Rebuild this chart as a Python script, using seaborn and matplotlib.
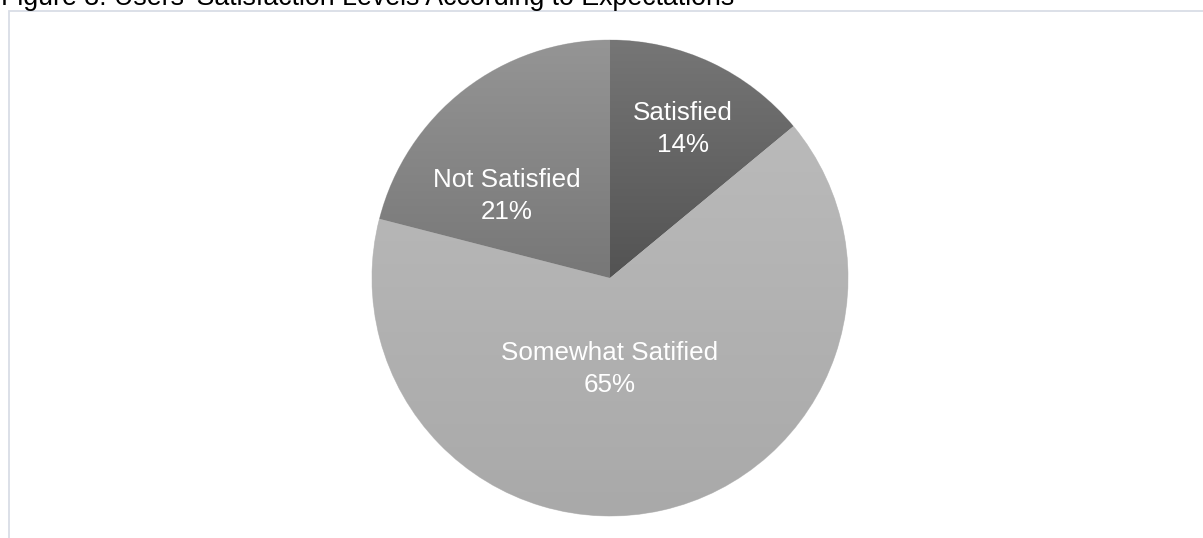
import matplotlib
matplotlib.use('Agg')
import matplotlib.pyplot as plt
import seaborn as sns
import numpy as np
from matplotlib.patches import Rectangle

sns.set_theme(style='white')
plt.rcParams['font.family'] = ['Liberation Sans', 'DejaVu Sans']

# data
categories = ['Satisfied', 'Somewhat Satified', 'Not Satisfied']
shares = [14, 65, 21]
# gradient colours per slice (top, bottom)
slice_top = ['#767676', '#bababa', '#959595']
slice_bottom = ['#535353', '#a9a9a9', '#777777']
# label placement in axis units (Excel "best fit" positions)
label_pos = [(0.305, 0.625), (0.0, -0.382), (-0.433, 0.345)]

fig = plt.figure(figsize=(12.03, 5.38), dpi=100)
W, H = 1203, 538
cx, cy, r = 610, 278, 238
ax = fig.add_axes([(cx - r) / W, (H - cy - r) / H, 2 * r / W, 2 * r / H])

wedges, _ = ax.pie(shares, startangle=90, counterclock=False, radius=1,
                   colors=slice_bottom,
                   wedgeprops=dict(linewidth=0.6, edgecolor='#d0d0d0'))

# vertical gradient inside each wedge
for w, top, bot in zip(wedges, slice_top, slice_bottom):
    path = w.get_path()
    ext = path.get_extents()
    c1 = np.array(matplotlib.colors.to_rgb(top))
    c2 = np.array(matplotlib.colors.to_rgb(bot))
    t = np.linspace(0, 1, 256)[:, None]
    grad = (c1 * (1 - t) + c2 * t)[:, None, :]
    im = ax.imshow(grad, extent=[ext.x0, ext.x1, ext.y0, ext.y1],
                   origin='upper', aspect='auto', zorder=w.get_zorder() + 0.1,
                   interpolation='bilinear')
    im.set_clip_path(w)

for name, val, (x, y) in zip(categories, shares, label_pos):
    ax.text(x, y, f'{name}\n{val}%', ha='center', va='center', color='white',
            fontsize=18.7, linespacing=1.4, zorder=10)

ax.set_xlim(-1, 1)
ax.set_ylim(-1, 1)
ax.set_aspect('equal')
ax.axis('off')

# chart frame border
fig.add_artist(Rectangle((9 / W, -0.05), 1.1, 1 - 11 / H + 0.05, transform=fig.transFigure,
                         fill=False, edgecolor='#d9dde6', linewidth=1.3))

fig.text(1 / W, 1 - 5 / H, "Figure 3: Users' Satisfaction Levels According to Expectations",
         ha='left', va='baseline', fontsize=19.3, color='black')

fig.savefig('out.png', dpi=100)
